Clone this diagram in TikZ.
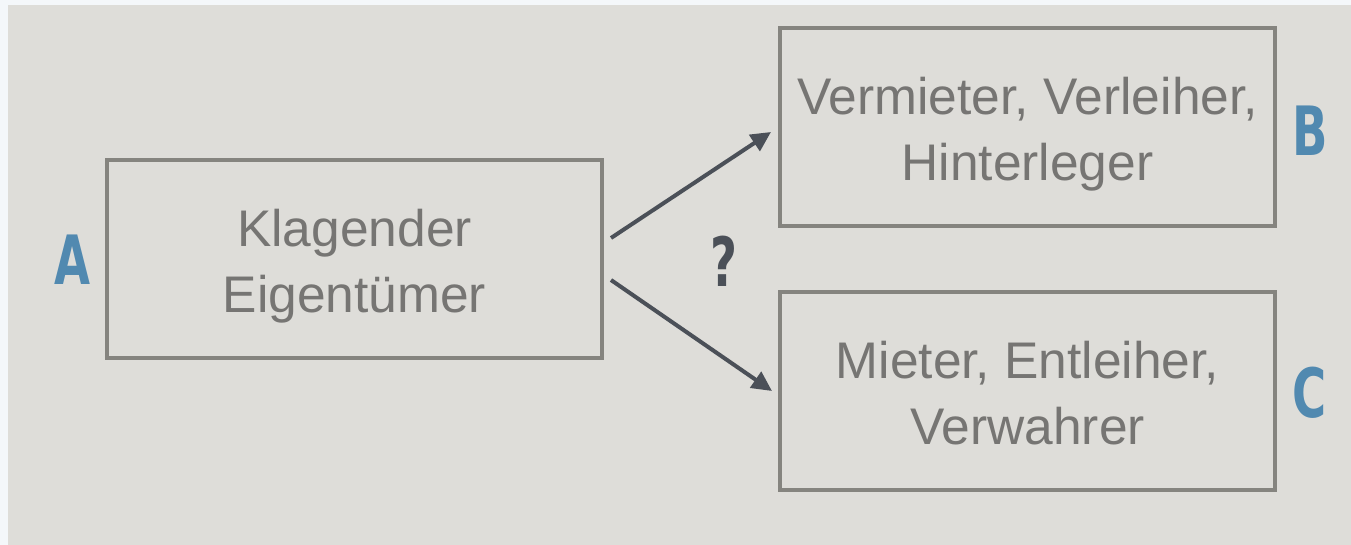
\documentclass[tikz,border=0pt]{standalone}
\usepackage{fontspec}
\setmainfont{Liberation Sans}
\newfontfamily\letterfont{DejaVu Sans Condensed}
\usetikzlibrary{arrows.meta}

\definecolor{PaperWhite}{HTML}{F4F7FA}
\definecolor{PaperGrey}{HTML}{DEDDD9}
\definecolor{BoxGrey}{HTML}{85847F}
\definecolor{TextGrey}{HTML}{767573}
\definecolor{LetterBlue}{HTML}{5189B0}
\definecolor{ArrowSlate}{HTML}{4B5058}

\tikzstyle{party-box}=[draw=BoxGrey, line width=4pt, minimum width=495pt, minimum height=198pt, align=center, text=TextGrey, font=\fontsize{51.5}{66}\selectfont, text height=117pt, text depth=10pt]
\tikzstyle{party-letter}=[inner sep=0pt, text=LetterBlue, font=\letterfont\fontsize{68}{68}\selectfont\bfseries, xscale=0.76, transform shape]
\tikzstyle{claim-arrow}=[draw=ArrowSlate, line width=4pt, -{Triangle[length=20pt,width=19pt]}]

\begin{document}
\begin{tikzpicture}[x=1pt, y=-1pt]
      \fill[PaperWhite] (0,0) rectangle (1351,545);
      \fill[PaperGrey] (8,5) rectangle (1351,545);

      \node (box-A) at (354.5, 259) [party-box] {Klagender\\Eigentümer};
      \node (box-B) at (1027.5, 127) [party-box] {Vermieter, Verleiher,\\Hinterleger};
      \node (box-C) at (1027.5, 391) [party-box] {Mieter, Entleiher,\\Verwahrer};

      \node (letter-A) at (72, 260) [party-letter] {A};
      \node (letter-B) at (1310, 131) [party-letter] {B};
      \node (letter-C) at (1310, 393) [party-letter] {C};
      \node (question) at (724, 261) [party-letter, text=ArrowSlate] {?};

      \coordinate (fork-top) at (611, 238);
      \coordinate (fork-bottom) at (611, 280);
      \draw[claim-arrow] (fork-top) -- ([shift={(-7,5)}]box-B.west);
      \draw[claim-arrow] (fork-bottom) -- ([xshift=-6pt]box-C.west);
    \end{tikzpicture}
\end{document}
